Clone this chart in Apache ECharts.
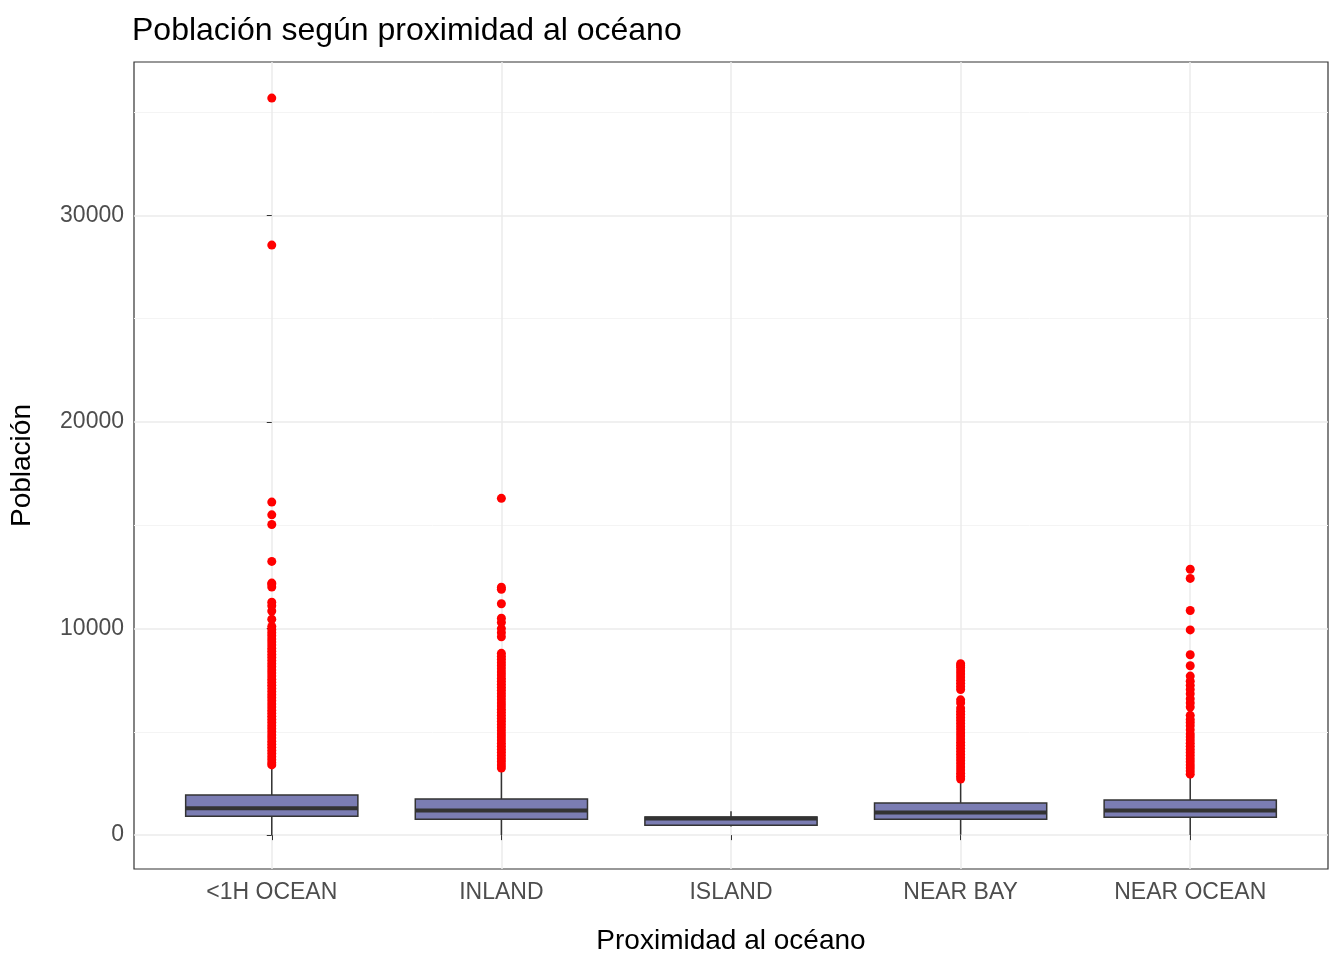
<!DOCTYPE html>
<html>
<head>
<meta charset="utf-8">
<script src="https://cdn.jsdelivr.net/npm/echarts@6/dist/echarts.min.js"></script>
<style>html,body{margin:0;background:#fff}#c{width:1344px;height:960px}</style>
</head>
<body>
<div id="c"></div>
<script>
const categories = ['<1H OCEAN', 'INLAND', 'ISLAND', 'NEAR BAY', 'NEAR OCEAN']
// [low, Q1, median, Q3, high]
const boxes = [
  [6, 917, 1302, 1944, 3330],
  [5, 772, 1190, 1751, 3180],
  [420, 482, 805, 883, 1158],
  [18, 772, 1095, 1560, 2640],
  [8, 868, 1190, 1703, 2880],
]
const outliers1h = [35682, 28566, 16122, 15507, 15037, 13251, 12203, 12153, 12010, 11272, 11100, 10850,
  10450, 10100, 9950, 9800, 9650, 9500, 9350, 9200, 9050, 8900, 8750, 8600, 8450, 8300, 8150, 8000, 7850,
  7700, 7550, 7400, 7250, 7100, 6950, 6800, 6650, 6500, 6350, 6200, 6050, 5900, 5750, 5600, 5450, 5300,
  5150, 5000, 4850, 4700, 4550, 4400, 4250, 4100, 3950, 3800, 3650, 3500, 3400]
const outliersInland = [16305, 12000, 11900, 11200, 10500, 10300, 10000, 9800, 9600, 8800, 8650, 8500, 8350,
  8200, 8050, 7900, 7750, 7600, 7450, 7300, 7150, 7000, 6850, 6700, 6550, 6400, 6250, 6100, 5950, 5800,
  5650, 5500, 5350, 5200, 5050, 4900, 4750, 4600, 4450, 4300, 4150, 4000, 3850, 3700, 3550, 3400, 3250]
const outliersBay = [8300, 8200, 8100, 7950, 7800, 7650, 7500, 7350, 7200, 7050, 6550, 6400, 6150, 6000,
  5850, 5700, 5550, 5400, 5250, 5100, 4950, 4800, 4650, 4500, 4350, 4200, 4050, 3900, 3750, 3600, 3450,
  3300, 3150, 3000, 2850, 2720]
const outliersOcean = [12873, 12427, 10877, 9936, 8733, 8200, 7700, 7450, 7250, 7050, 6850, 6600, 6400,
  6200, 5800, 5600, 5450, 5300, 5100, 4900, 4750, 4600, 4450, 4300, 4150, 4000, 3850, 3700, 3550, 3400,
  3250, 3100, 2950]
const yTicks = [0, 10000, 20000, 30000]
const yMinor = [5000, 15000, 25000, 35000]
const xTicks = [0, 1, 2, 3, 4]

const outlierData = []
;[outliers1h, outliersInland, [], outliersBay, outliersOcean].forEach((arr, i) => {
  arr.forEach(v => outlierData.push([i, v]))
})

const FONT = 'Liberation Sans, Arial, sans-serif'
const BOX_HALF = 0.375

const chart = echarts.init(document.getElementById('c'), null, { renderer: 'canvas' })
const gridLines = [
  ...yMinor.map(v => ({ yAxis: v, lineStyle: { color: '#f4f4f4', width: 1, type: 'solid' } })),
  ...yTicks.map(v => ({ yAxis: v, lineStyle: { color: '#ebebeb', width: 1.5, type: 'solid' } })),
  ...xTicks.map(v => ({ xAxis: v, lineStyle: { color: '#ebebeb', width: 1.5, type: 'solid' } })),
]

function renderBox(params, api) {
  const i = api.value(0)
  const low = api.coord([i, api.value(1)])
  const q1 = api.coord([i, api.value(2)])
  const med = api.coord([i, api.value(3)])
  const q3 = api.coord([i, api.value(4)])
  const high = api.coord([i, api.value(5)])
  const left = api.coord([i - BOX_HALF, 0])[0]
  const right = api.coord([i + BOX_HALF, 0])[0]
  const line = { stroke: '#333', lineWidth: 1.5 }
  return {
    type: 'group',
    children: [
      { type: 'line', shape: { x1: low[0], y1: low[1], x2: q1[0], y2: q1[1] }, style: line },
      { type: 'line', shape: { x1: q3[0], y1: q3[1], x2: high[0], y2: high[1] }, style: line },
      { type: 'rect', shape: { x: left, y: q3[1], width: right - left, height: q1[1] - q3[1] },
        style: { fill: '#7b7db3', stroke: '#333', lineWidth: 1.5 } },
      { type: 'line', shape: { x1: left, y1: med[1], x2: right, y2: med[1] }, style: { stroke: '#333', lineWidth: 4 } },
    ],
  }
}

chart.setOption({
  animation: false,
  title: {
    text: 'Población según proximidad al océano', left: 127, top: 10,
    textStyle: { fontFamily: FONT, fontSize: 32, fontWeight: 'normal', color: '#000' },
  },
  grid: { left: 128, right: 16, top: 62, bottom: 88, show: true, borderColor: '#333', borderWidth: 1.2 },
  xAxis: {
    type: 'value', min: -0.6, max: 4.6,
    name: 'Proximidad al océano', nameLocation: 'middle', nameGap: 58,
    nameTextStyle: { fontFamily: FONT, fontSize: 28, color: '#000' },
    axisLine: { show: false },
    axisTick: { show: true, customValues: xTicks, lineStyle: { color: '#333' }, length: 5 },
    axisLabel: { customValues: xTicks, formatter: v => categories[Math.round(v)] || '',
      fontFamily: FONT, fontSize: 23, color: '#4d4d4d', margin: 12 },
    splitLine: { show: false },
  },
  yAxis: {
    type: 'value', min: -1640, max: 37430,
    name: 'Población', nameLocation: 'middle', nameGap: 98,
    nameTextStyle: { fontFamily: FONT, fontSize: 28, color: '#000' },
    axisLine: { show: false },
    axisTick: { show: true, customValues: yTicks, lineStyle: { color: '#333' }, length: 5 },
    axisLabel: { customValues: yTicks, formatter: v => String(v),
      fontFamily: FONT, fontSize: 23, color: '#4d4d4d', margin: 10 },
    splitLine: { show: false },
  },
  series: [
    {
      type: 'line', data: [], silent: true,
      markLine: { silent: true, symbol: 'none', label: { show: false }, data: gridLines, z: 0 },
    },
    {
      type: 'custom', renderItem: renderBox, z: 3,
      data: boxes.map((b, i) => [i, ...b]),
      encode: { x: 0, y: [1, 2, 3, 4, 5] },
    },
    {
      type: 'scatter', data: outlierData, symbolSize: 9,
      itemStyle: { color: '#ff0000', opacity: 1 }, z: 5,
    },
  ],
})
</script>
</body>
</html>
